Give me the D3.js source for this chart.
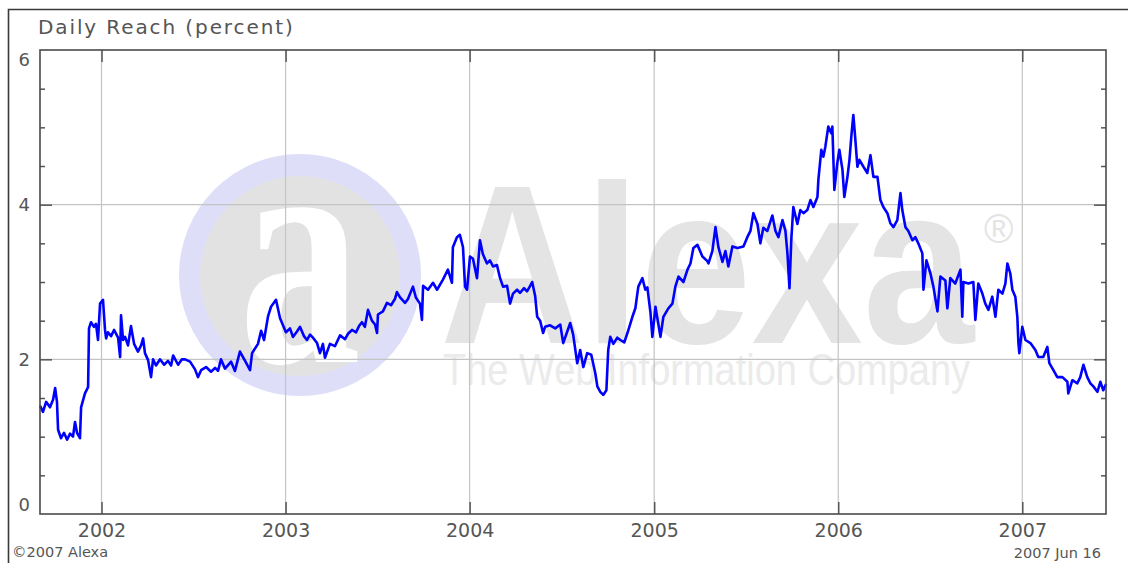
<!DOCTYPE html>
<html>
<head>
<meta charset="utf-8">
<script src="https://cdn.jsdelivr.net/npm/d3@7"></script>
<style>
	body { margin: 0; background: #fff; }
	text { font-family: "DejaVu Sans", Verdana, sans-serif; }
</style>
</head>
<body>
<div id="chart"></div>
<script>
// daily reach as [decimal year, percent]
const reach2001 = [
	[2001.666,1.40],[2001.682,1.32],[2001.699,1.45],[2001.720,1.38],[2001.737,1.48],[2001.748,1.63],[2001.758,1.45],
	[2001.764,1.09],[2001.780,0.98],[2001.796,1.05],[2001.813,0.96],[2001.829,1.04],[2001.845,1.00],[2001.856,1.19],
	[2001.867,1.05],[2001.883,0.98],[2001.889,1.38],[2001.910,1.56],[2001.927,1.64],[2001.932,2.40],[2001.943,2.48],
	[2001.959,2.42],[2001.970,2.46],[2001.981,2.25],[2001.992,2.72]
]
const reach2002 = [
	[2002.008,2.77],[2002.019,2.38],[2002.025,2.27],[2002.035,2.35],[2002.052,2.30],[2002.068,2.38],[2002.090,2.28],
	[2002.101,2.03],[2002.106,2.57],[2002.117,2.25],[2002.128,2.29],[2002.144,2.18],[2002.160,2.43],[2002.177,2.20],
	[2002.198,2.10],[2002.215,2.18],[2002.226,2.27],[2002.236,2.08],[2002.253,1.99],[2002.269,1.77],[2002.280,2.00],
	[2002.296,1.92],[2002.318,2.00],[2002.340,1.93],[2002.361,1.98],[2002.378,1.92],[2002.389,2.05],[2002.416,1.93],
	[2002.437,2.00],[2002.454,2.00],[2002.481,1.97],[2002.508,1.87],[2002.524,1.77],[2002.541,1.86],[2002.568,1.90],
	[2002.595,1.84],[2002.617,1.89],[2002.633,1.85],[2002.649,2.00],[2002.671,1.88],[2002.704,1.97],[2002.725,1.85],
	[2002.752,2.10],[2002.780,1.98],[2002.807,1.86],[2002.818,2.08],[2002.850,2.20],[2002.867,2.37],[2002.883,2.25],
	[2002.905,2.56],[2002.921,2.68],[2002.948,2.77],[2002.970,2.53],[2002.986,2.44]
]
const reach2003 = [
	[2003.002,2.35],[2003.024,2.40],[2003.040,2.29],[2003.062,2.36],[2003.078,2.42],[2003.100,2.30],[2003.116,2.25],
	[2003.133,2.32],[2003.149,2.28],[2003.171,2.21],[2003.187,2.08],[2003.203,2.20],[2003.214,2.02],[2003.241,2.20],
	[2003.268,2.17],[2003.296,2.31],[2003.323,2.26],[2003.339,2.33],[2003.361,2.38],[2003.383,2.35],[2003.399,2.43],
	[2003.415,2.48],[2003.431,2.42],[2003.448,2.64],[2003.469,2.50],[2003.486,2.45],[2003.497,2.34],[2003.502,2.58],
	[2003.529,2.62],[2003.551,2.73],[2003.573,2.70],[2003.594,2.78],[2003.605,2.87],[2003.622,2.80],[2003.649,2.73],
	[2003.665,2.78],[2003.692,2.94],[2003.708,2.80],[2003.730,2.72],[2003.741,2.51],[2003.747,2.95],[2003.774,2.90],
	[2003.801,2.99],[2003.823,2.90],[2003.855,3.03],[2003.882,3.16],[2003.904,2.99],[2003.909,3.45],[2003.931,3.58],
	[2003.947,3.61],[2003.964,3.45],[2003.975,2.94],[2003.986,2.90]
]
const reach2004 = [
	[2004.002,3.33],[2004.018,3.30],[2004.040,3.05],[2004.056,3.54],[2004.072,3.36],[2004.094,3.24],[2004.110,3.28],
	[2004.127,3.20],[2004.148,3.22],[2004.165,3.05],[2004.181,2.94],[2004.203,2.95],[2004.219,2.72],[2004.235,2.85],
	[2004.257,2.90],[2004.273,2.86],[2004.295,2.92],[2004.311,2.88],[2004.328,2.95],[2004.339,3.00],[2004.355,2.82],
	[2004.366,2.55],[2004.382,2.50],[2004.398,2.34],[2004.409,2.42],[2004.436,2.44],[2004.464,2.40],[2004.491,2.45],
	[2004.507,2.21],[2004.529,2.36],[2004.545,2.47],[2004.561,2.32],[2004.583,1.95],[2004.599,2.12],[2004.616,1.90],
	[2004.637,2.08],[2004.659,2.06],[2004.681,1.82],[2004.692,1.65],[2004.708,1.58],[2004.724,1.54],[2004.741,1.60],
	[2004.751,2.12],[2004.762,2.29],[2004.779,2.20],[2004.800,2.28],[2004.817,2.25],[2004.838,2.22],[2004.855,2.34],
	[2004.882,2.55],[2004.898,2.66],[2004.914,2.94],[2004.936,3.05],[2004.952,2.90],[2004.963,2.93],[2004.980,2.60],
	[2004.990,2.29]
]
const reach2005 = [
	[2005.007,2.68],[2005.023,2.45],[2005.034,2.29],[2005.050,2.55],[2005.077,2.66],[2005.099,2.72],[2005.115,2.94],
	[2005.132,3.07],[2005.159,3.00],[2005.181,3.16],[2005.197,3.24],[2005.213,3.44],[2005.235,3.48],[2005.262,3.33],
	[2005.289,3.27],[2005.295,3.24],[2005.316,3.40],[2005.333,3.71],[2005.349,3.45],[2005.371,3.26],[2005.387,3.40],
	[2005.403,3.20],[2005.425,3.46],[2005.452,3.44],[2005.485,3.46],[2005.506,3.58],[2005.523,3.66],[2005.539,3.89],
	[2005.561,3.75],[2005.577,3.50],[2005.593,3.70],[2005.615,3.66],[2005.642,3.86],[2005.659,3.66],[2005.675,3.58],
	[2005.697,3.80],[2005.713,3.66],[2005.724,3.37],[2005.735,2.92],[2005.745,3.55],[2005.756,3.97],[2005.778,3.75],
	[2005.794,3.93],[2005.811,3.89],[2005.832,3.93],[2005.849,4.06],[2005.865,3.97],[2005.887,4.10],[2005.892,4.32],
	[2005.908,4.71],[2005.919,4.62],[2005.930,4.75],[2005.946,5.01],[2005.963,4.92],[2005.968,5.01],[2005.979,4.19],
	[2005.995,4.54]
]
const reach2006 = [
	[2006.006,4.71],[2006.023,4.45],[2006.033,4.10],[2006.050,4.36],[2006.061,4.58],[2006.071,4.88],[2006.082,5.16],
	[2006.093,4.84],[2006.104,4.49],[2006.115,4.58],[2006.137,4.49],[2006.158,4.41],[2006.175,4.64],[2006.191,4.36],
	[2006.213,4.36],[2006.229,4.06],[2006.245,3.97],[2006.267,3.89],[2006.283,3.76],[2006.300,3.71],[2006.321,3.80],
	[2006.338,4.15],[2006.348,3.93],[2006.365,3.71],[2006.381,3.66],[2006.403,3.54],[2006.419,3.58],[2006.435,3.50],
	[2006.457,3.37],[2006.463,2.90],[2006.479,3.28],[2006.501,3.11],[2006.517,2.94],[2006.539,2.62],[2006.555,3.07],
	[2006.582,3.02],[2006.593,2.66],[2006.609,3.05],[2006.636,2.98],[2006.664,3.16],[2006.674,2.55],[2006.680,3.00],
	[2006.707,2.98],[2006.734,3.00],[2006.745,2.51],[2006.761,2.98],[2006.783,2.85],[2006.799,2.72],[2006.816,2.64],
	[2006.837,2.81],[2006.854,2.55],[2006.870,2.90],[2006.892,2.85],[2006.908,2.98],[2006.919,3.24],[2006.935,3.11],
	[2006.946,2.90],[2006.962,2.81],[2006.973,2.55],[2006.979,2.21],[2006.984,2.08]
]
const reach2007 = [
	[2007.000,2.42],[2007.017,2.25],[2007.044,2.21],[2007.071,2.12],[2007.087,2.03],[2007.114,2.03],[2007.136,2.16],
	[2007.147,1.95],[2007.169,1.86],[2007.190,1.77],[2007.218,1.77],[2007.245,1.71],[2007.250,1.56],[2007.272,1.73],
	[2007.299,1.69],[2007.315,1.77],[2007.332,1.93],[2007.353,1.77],[2007.370,1.69],[2007.386,1.65],[2007.408,1.58],
	[2007.424,1.71],[2007.440,1.60],[2007.455,1.68]
]

const xTickYears = [2002, 2003, 2004, 2005, 2006, 2007]
const yTickValues = [0, 2, 4, 6]
const yGridValues = [2, 4]
const dateStart = '2001-09-01'
const dateEnd = '2007-06-16'

const width = 1128
const height = 563
const margin = { top: 50, right: 22, bottom: 49, left: 40 }

// decimal year -> Date
const toDate = t => {
	const y = Math.floor(t)
	const start = new Date(y, 0, 1)
	const end = new Date(y + 1, 0, 1)
	return new Date(+start + (t - y) * (end - start))
}
const parse = d3.timeParse('%Y-%m-%d')

const data = [reach2001, reach2002, reach2003, reach2004, reach2005, reach2006, reach2007]
	.flat()
	.map(([t, v]) => ({ date: toDate(t), value: v }))

const xScale = d3.scaleTime()
	.domain([parse(dateStart), parse(dateEnd)])
	.range([margin.left, width - margin.right])

const yScale = d3.scaleLinear()
	.domain([0, 6])
	.range([height - margin.bottom, margin.top])

const svg = d3.select('#chart')
	.append('svg')
		.attr('width', width)
		.attr('height', height)

// outer frame
svg.append('path')
	.attr('d', `M8.5,${height} V9.5 H${width}`)
	.attr('fill', 'none')
	.attr('stroke', '#3a3a3a')
	.attr('stroke-width', 1.6)

svg.append('text')
	.attr('x', 38)
	.attr('y', 34)
	.attr('font-size', 20)
	.attr('letter-spacing', 1.9)
	.attr('fill', '#555')
	.text('Daily Reach (percent)')

// watermark
const mark = svg.append('g').attr('class', 'watermark')
mark.append('circle')
	.attr('cx', 300).attr('cy', 275).attr('r', 121)
	.attr('fill', '#dedef8')
mark.append('circle')
	.attr('cx', 300).attr('cy', 276).attr('r', 100)
	.attr('fill', '#e2e2e2')
mark.append('text')
	.attr('transform', 'translate(300, 362) scale(0.74, 1)')
	.attr('text-anchor', 'middle')
	.attr('font-size', 330)
	.attr('font-weight', 'bold')
	.attr('fill', '#fff')
	.style('font-family', '"Liberation Serif", "DejaVu Serif", serif')
	.text('a')

// wordmark, registered sign and tagline share one text element
const word = mark.append('text')
	.style('font-family', '"Liberation Sans", Arial, sans-serif')
word.append('tspan')
	.attr('x', 440).attr('y', 343)
	.attr('font-size', 226)
	.attr('font-weight', 'bold')
	.attr('textLength', 534)
	.attr('lengthAdjust', 'spacingAndGlyphs')
	.attr('fill', '#e4e4e4')
	.text('Alexa')
word.append('tspan')
	.attr('x', 984).attr('y', 243)
	.attr('font-size', 40)
	.attr('fill', '#e4e4e4')
	.text('®')
word.append('tspan')
	.attr('x', 443).attr('y', 385)
	.attr('font-size', 44)
	.attr('textLength', 527)
	.attr('lengthAdjust', 'spacingAndGlyphs')
	.attr('fill', '#ebebeb')
	.text('The Web Information Company')

// grid
const grid = svg.append('g').attr('class', 'grid')
	.attr('stroke', '#c4c4c4')
	.attr('stroke-width', 1.2)
grid.selectAll('line.v')
	.data(xTickYears)
	.enter()
	.append('line')
		.attr('class', 'v')
		.attr('x1', d => xScale(new Date(d, 0, 1)))
		.attr('x2', d => xScale(new Date(d, 0, 1)))
		.attr('y1', margin.top)
		.attr('y2', height - margin.bottom)
grid.selectAll('line.h')
	.data(yGridValues)
	.enter()
	.append('line')
		.attr('class', 'h')
		.attr('x1', margin.left)
		.attr('x2', width - margin.right)
		.attr('y1', d => yScale(d))
		.attr('y2', d => yScale(d))

// the line
const line = d3.line()
	.x(d => xScale(d.date))
	.y(d => yScale(d.value))

svg.append('path')
	.datum(data)
	.attr('d', line)
	.attr('fill', 'none')
	.attr('stroke', '#0000ff')
	.attr('stroke-width', 2.6)
	.attr('stroke-linejoin', 'round')

// axes
const tickColor = '#555'
const yearDates = xTickYears.map(y => new Date(y, 0, 1))
const minorY = d3.range(0.5, 6, 0.5).filter(v => v % 2 !== 0)
const majorY = [2, 4]

const styleTicks = g => {
	g.select('.domain').remove()
	g.selectAll('line').attr('stroke', tickColor).attr('stroke-width', 1.5)
	g.selectAll('text').remove()
}

svg.append('g')
	.attr('transform', `translate(0, ${height - margin.bottom})`)
	.call(d3.axisTop(xScale).tickValues(yearDates).tickSize(12))
	.call(styleTicks)
svg.append('g')
	.attr('transform', `translate(0, ${margin.top})`)
	.call(d3.axisBottom(xScale).tickValues(yearDates).tickSize(12))
	.call(styleTicks)

svg.append('g')
	.attr('transform', `translate(${margin.left}, 0)`)
	.call(d3.axisRight(yScale).tickValues(minorY).tickSize(5))
	.call(styleTicks)
svg.append('g')
	.attr('transform', `translate(${margin.left}, 0)`)
	.call(d3.axisRight(yScale).tickValues(majorY).tickSize(12))
	.call(styleTicks)
svg.append('g')
	.attr('transform', `translate(${width - margin.right}, 0)`)
	.call(d3.axisLeft(yScale).tickValues(minorY).tickSize(5))
	.call(styleTicks)
svg.append('g')
	.attr('transform', `translate(${width - margin.right}, 0)`)
	.call(d3.axisLeft(yScale).tickValues(majorY).tickSize(12))
	.call(styleTicks)

// plot border
svg.append('rect')
	.attr('x', margin.left)
	.attr('y', margin.top)
	.attr('width', width - margin.left - margin.right)
	.attr('height', height - margin.top - margin.bottom)
	.attr('fill', 'none')
	.attr('stroke', '#4a4a4a')
	.attr('stroke-width', 1.6)

// tick labels
const yLabels = svg.append('g')
	.attr('transform', `translate(${margin.left}, 0)`)
	.call(d3.axisLeft(yScale).tickValues(yTickValues).tickFormat(d3.format('d')).tickSize(0).tickPadding(10))
yLabels.select('.domain').remove()
yLabels.selectAll('text')
	.attr('font-size', 18)
	.attr('fill', '#555')
	.attr('dy', d => d === 6 ? '0.88em' : d === 0 ? '-0.18em' : '0.32em')
	.style('font-family', '"DejaVu Sans", Verdana, sans-serif')

const xLabels = svg.append('g')
	.attr('transform', `translate(0, ${height - margin.bottom})`)
	.call(d3.axisBottom(xScale).tickValues(yearDates).tickFormat(d3.timeFormat('%Y')).tickSize(0).tickPadding(9.5))
xLabels.select('.domain').remove()
xLabels.selectAll('text')
	.attr('font-size', 19)
	.attr('fill', '#555')
	.style('font-family', '"DejaVu Sans", Verdana, sans-serif')

svg.append('text')
	.attr('x', 12)
	.attr('y', 557)
	.attr('font-size', 14.5)
	.attr('fill', '#555')
	.text('©2007 Alexa')

svg.append('text')
	.attr('x', 1101)
	.attr('y', 558)
	.attr('text-anchor', 'end')
	.attr('font-size', 14.5)
	.attr('fill', '#555')
	.text('2007 Jun 16')
</script>
</body>
</html>
